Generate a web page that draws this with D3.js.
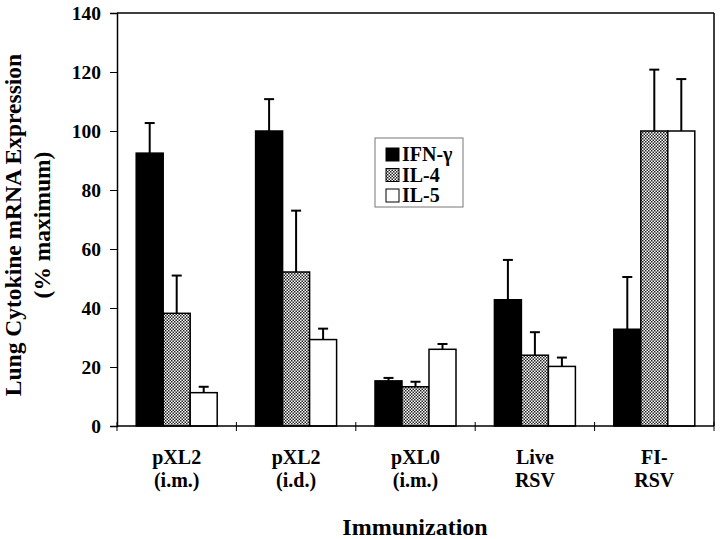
<!DOCTYPE html>
<html><head><meta charset="utf-8">
<script src="https://cdn.jsdelivr.net/npm/d3@7"></script>
</head><body style="margin:0;background:#fff">
<script>
const categories = [["pXL2","(i.m.)"],["pXL2","(i.d.)"],["pXL0","(i.m.)"],["Live","RSV"],["FI-","RSV"]];
const seriesNames = ["IFN-γ","IL-4","IL-5"];
const ifnG = [92.5, 100, 15.3, 42.8, 32.8];
const ifnGErr = [102.7, 110.8, 16.3, 56.3, 50.5];
const il4 = [38.2, 52.2, 13.3, 24, 100];
const il4Err = [51, 73, 15, 31.8, 120.8];
const il5 = [11.3, 29.3, 26, 20.2, 100];
const il5Err = [13.3, 33, 27.8, 23.2, 117.6];
const yTicks = [0,20,40,60,80,100,120,140];

const W=720,H=539;
const m={l:117,t:13,r:714,b:426};
const FF="Liberation Serif";
const svg=d3.select("body").append("svg").attr("width",W).attr("height",H).style("display","block");
const defs=svg.append("defs");
const pat=defs.append("pattern").attr("id","hatch").attr("patternUnits","userSpaceOnUse").attr("width",3).attr("height",3);
pat.append("rect").attr("width",3).attr("height",3).attr("fill","#fff");
pat.append("rect").attr("width",1.5).attr("height",1.5).attr("fill","#222");
pat.append("rect").attr("x",1.5).attr("y",1.5).attr("width",1.5).attr("height",1.5).attr("fill","#222");
const fills=["#000","url(#hatch)","#fff"];

const x=d3.scaleBand().domain(d3.range(categories.length)).range([m.l,m.r]);
const xs=d3.scaleBand().domain(d3.range(3)).range([0,81]);
const y=d3.scaleLinear().domain([0,140]).range([m.b,m.t]);

const vals=[ifnG,il4,il5], errs=[ifnGErr,il4Err,il5Err];
const data=[];
categories.forEach((c,i)=>{for(let s=0;s<3;s++)data.push({i,s,v:vals[s][i],e:errs[s][i]});});

svg.append("line").attr("x1",m.l).attr("x2",m.r).attr("y1",m.t).attr("y2",m.t).attr("stroke","#000").attr("stroke-width",1.5);
svg.append("line").attr("x1",m.r).attr("x2",m.r).attr("y1",m.t).attr("y2",m.b).attr("stroke","#000").attr("stroke-width",1.5);

const off=(x.bandwidth()-81)/2;
const eg=svg.append("g").attr("stroke","#000").attr("stroke-width",2);
data.forEach(d=>{
  const cx=x(d.i)+off+xs(d.s)+xs.bandwidth()/2;
  eg.append("line").attr("x1",cx).attr("x2",cx).attr("y1",y(d.v)).attr("y2",y(d.e));
  eg.append("line").attr("x1",cx-5).attr("x2",cx+5).attr("y1",y(d.e)).attr("y2",y(d.e));
});
svg.append("g").selectAll("rect").data(data).join("rect")
  .attr("x",d=>x(d.i)+off+xs(d.s)).attr("width",xs.bandwidth())
  .attr("y",d=>y(d.v)).attr("height",d=>y(0)-y(d.v))
  .attr("fill",d=>fills[d.s]).attr("stroke","#000").attr("stroke-width",1.5);

const ya=svg.append("g").attr("transform",`translate(${m.l},0)`).call(d3.axisLeft(y).tickValues(yTicks).tickSize(7).tickPadding(9));
ya.attr("font-family",FF).attr("font-size",19.5).attr("font-weight","bold");
ya.select(".domain").attr("stroke-width",1.5);
const xa=svg.append("g").attr("transform",`translate(0,${m.b})`);
xa.append("line").attr("x1",m.l).attr("x2",m.r).attr("stroke","#000").attr("stroke-width",1.5);
x.domain().concat([categories.length]).forEach(i=>{
  const px=i<categories.length?x(i):m.r;
  xa.append("line").attr("x1",px).attr("x2",px).attr("y1",-4).attr("y2",5).attr("stroke","#000").attr("stroke-width",1);
});
categories.forEach((c,i)=>{
  const t=xa.append("text").attr("text-anchor","middle").attr("font-size",20).attr("font-family",FF).attr("font-weight","bold");
  t.append("tspan").attr("x",x(i)+x.bandwidth()/2).attr("y",38).text(c[0]);
  t.append("tspan").attr("x",x(i)+x.bandwidth()/2).attr("y",61).text(c[1]);
});
svg.append("text").attr("x",415).attr("y",535).attr("text-anchor","middle").attr("font-size",24).attr("font-family",FF).attr("font-weight","bold").text("Immunization");
const yt=svg.append("text").attr("transform","translate(0,225) rotate(-90)").attr("text-anchor","middle").attr("font-size",23.5).attr("font-family",FF).attr("font-weight","bold");
yt.append("tspan").attr("x",0).attr("y",21).text("Lung Cytokine mRNA Expression");
yt.append("tspan").attr("x",0).attr("y",50).text("(% maximum)");

const lg=svg.append("g").attr("transform","translate(375,138)");
lg.append("rect").attr("width",88).attr("height",69).attr("fill","#fff").attr("stroke","#777").attr("stroke-width",1);
seriesNames.forEach((n,s)=>{
  lg.append("rect").attr("x",11).attr("y",10+s*20.5).attr("width",13).attr("height",13).attr("fill",fills[s]).attr("stroke","#000").attr("stroke-width",1);
  lg.append("text").attr("x",27).attr("y",23+s*20.5).attr("font-size",20).attr("font-family",FF).attr("font-weight","bold").text(n);
});
</script>
</body></html>
